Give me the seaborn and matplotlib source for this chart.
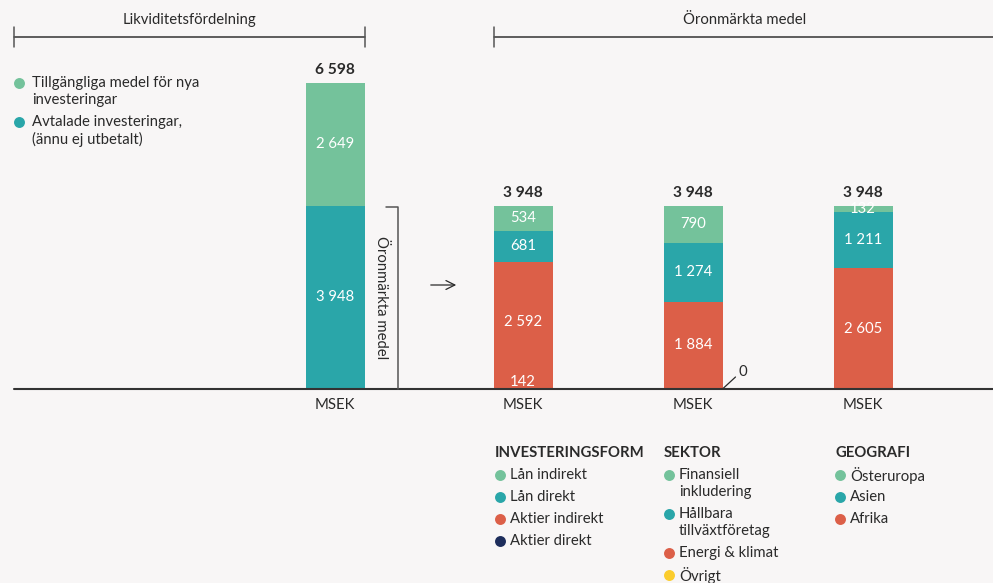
import numpy as np
import pandas as pd
import matplotlib
matplotlib.use("Agg")
import matplotlib.pyplot as plt
import seaborn as sns

# ---- data ----------------------------------------------------------------
groups = ["Likviditet", "Investeringsform", "Sektor", "Geografi"]
seg_names = {
    "Likviditet": ["Avtalade investeringar", "Tillgängliga medel"],
    "Investeringsform": ["Aktier direkt", "Aktier indirekt", "Lån direkt", "Lån indirekt"],
    "Sektor": ["Övrigt", "Energi & klimat", "Hållbara tillväxtföretag", "Finansiell inkludering"],
    "Geografi": ["Afrika", "Asien", "Österuropa"],
}
seg_values = {
    "Likviditet": [3948, 2649],
    "Investeringsform": [142, 2592, 681, 534],
    "Sektor": [0, 1884, 1274, 790],
    "Geografi": [2605, 1211, 132],
}
totals = [6598, 3948, 3948, 3948]

# ---- style ----------------------------------------------------------------
GREEN, TEAL, RED, NAVY, YEL = "#74c29b", "#2aa6a9", "#dc5f48", "#1d2d5b", "#fbcc2c"
BG, INK = "#f8f6f6", "#2a2a2a"
seg_colors = {
    "Avtalade investeringar": TEAL, "Tillgängliga medel": GREEN,
    "Aktier direkt": RED, "Aktier indirekt": RED, "Lån direkt": TEAL, "Lån indirekt": GREEN,
    "Övrigt": YEL, "Energi & klimat": RED, "Hållbara tillväxtföretag": TEAL,
    "Finansiell inkludering": GREEN,
    "Afrika": RED, "Asien": TEAL, "Österuropa": GREEN,
}

W, H = 993, 583
BASE = 389                     # baseline pixel row
SCALE = 306 / 6598             # px per MSEK
bar_px = [335, 523, 693, 863]  # bar centres (layout)
bar_w = 59
FS = 10.7

sns.set_theme(style="white")
plt.rcParams["font.family"] = ["Lato", "DejaVu Sans"]

# long table: one row per segment, with cumulative top for overlay-stacking
rows = []
for g, xp in zip(groups, bar_px):
    cum = 0
    for n, v in zip(seg_names[g], seg_values[g]):
        rows.append(dict(group=g, x=xp, seg=f"{g}|{n}", name=n, value=v,
                         bottom=cum, top=cum + v))
        cum += v
df = pd.DataFrame(rows)
draw = df[df.value > 0].sort_values("top", ascending=False)
palette = {r.seg: seg_colors[r.name] for r in draw.itertuples()}

fig = plt.figure(figsize=(W / 100, H / 100), dpi=100, facecolor=BG)
ax = fig.add_axes([0, 0, 1, 1], facecolor=BG)
sns.barplot(data=draw, x="x", y="top", hue="seg", hue_order=list(draw.seg),
            palette=palette, dodge=False, native_scale=True,
            width=bar_w / np.diff(bar_px).min(), saturation=1, errorbar=None,
            legend=False, linewidth=0, ax=ax)
ax.set_xlim(0, W)
ax.set_ylim(-(H - BASE) / SCALE, BASE / SCALE)
ax.axis("off")

# segment labels (white)
for r in df.itertuples():
    if r.value == 0:
        x_edge = r.x + bar_w / 2
        ax.plot([x_edge, x_edge + 13], [0, 12 / SCALE], color=INK, lw=0.9)
        ax.text(x_edge + 16, 17 / SCALE, "0", color=INK, fontsize=FS,
                ha="left", va="center")
        continue
    yc = max(r.bottom + r.value / 2, 150)
    ax.text(r.x, yc, f"{r.value:,}".replace(",", " "), color="white",
            fontsize=FS, ha="center", va="center")

# totals
for xp, t in zip(bar_px, totals):
    ax.text(xp, t + 13 / SCALE, f"{t:,}".replace(",", " "), color=INK,
            fontsize=FS + 0.5, fontweight="bold", ha="center", va="center")

ax.axhline(0, xmin=14 / W, xmax=1, color="#333333", lw=1.5, zorder=5)

# overlay axes in pixel coordinates for annotations
ov = fig.add_axes([0, 0, 1, 1], facecolor="none")
ov.set_xlim(0, W)
ov.set_ylim(H, 0)
ov.axis("off")

for xp in bar_px:
    ov.text(xp, 405, "MSEK", color=INK, fontsize=FS, ha="center", va="center")

# headers with brackets
ov.text(190, 20, "Likviditetsfördelning", color=INK, fontsize=FS, ha="center", va="center")
ov.plot([14, 365], [37, 37], color="#333333", lw=1.1)
for xx in (14, 365):
    ov.plot([xx, xx], [27, 47], color="#555555", lw=1.1)
ov.text(745, 20, "Öronmärkta medel", color=INK, fontsize=FS, ha="center", va="center")
ov.plot([494, W], [37, 37], color="#333333", lw=1.1)
ov.plot([494, 494], [27, 47], color="#555555", lw=1.1)

# top-left legend
for yy, col, lines in [(83, GREEN, ["Tillgängliga medel för nya", "investeringar"]),
                       (122, TEAL, ["Avtalade investeringar,", "(ännu ej utbetalt)"])]:
    ov.scatter([19], [yy], s=62, color=col, lw=0)
    for i, ln in enumerate(lines):
        ov.text(32, yy + 17 * i, ln, color=INK, fontsize=FS, ha="left", va="center")

# vertical bracket + arrow
ov.plot([386, 398, 398], [207, 207, 389], color="#555555", lw=1.1)
ov.text(381, 298, "Öronmärkta medel", color=INK, fontsize=FS, rotation=-90,
        ha="center", va="center")
ov.annotate("", xy=(459, 285), xytext=(428, 285),
            arrowprops=dict(arrowstyle="->", color=INK, lw=0.9, mutation_scale=16))

# bottom legends
legends = [
    (495, "INVESTERINGSFORM", [(GREEN, ["Lån indirekt"]), (TEAL, ["Lån direkt"]),
                               (RED, ["Aktier indirekt"]), (NAVY, ["Aktier direkt"])]),
    (664, "SEKTOR", [(GREEN, ["Finansiell", "inkludering"]),
                     (TEAL, ["Hållbara", "tillväxtföretag"]),
                     (RED, ["Energi & klimat"]), (YEL, ["Övrigt"])]),
    (835, "GEOGRAFI", [(GREEN, ["Österuropa"]), (TEAL, ["Asien"]), (RED, ["Afrika"])]),
]
for x0, title, items in legends:
    ov.text(x0, 453, title, color=INK, fontsize=FS, fontweight="bold",
            ha="left", va="center")
    yy = 475
    for col, lines in items:
        ov.scatter([x0 + 5], [yy], s=62, color=col, lw=0)
        for i, ln in enumerate(lines):
            ov.text(x0 + 15, yy + 17 * i, ln, color=INK, fontsize=FS,
                    ha="left", va="center")
        yy += 22 + 17 * (len(lines) - 1)

fig.savefig("out.png", dpi=100, facecolor=BG)
